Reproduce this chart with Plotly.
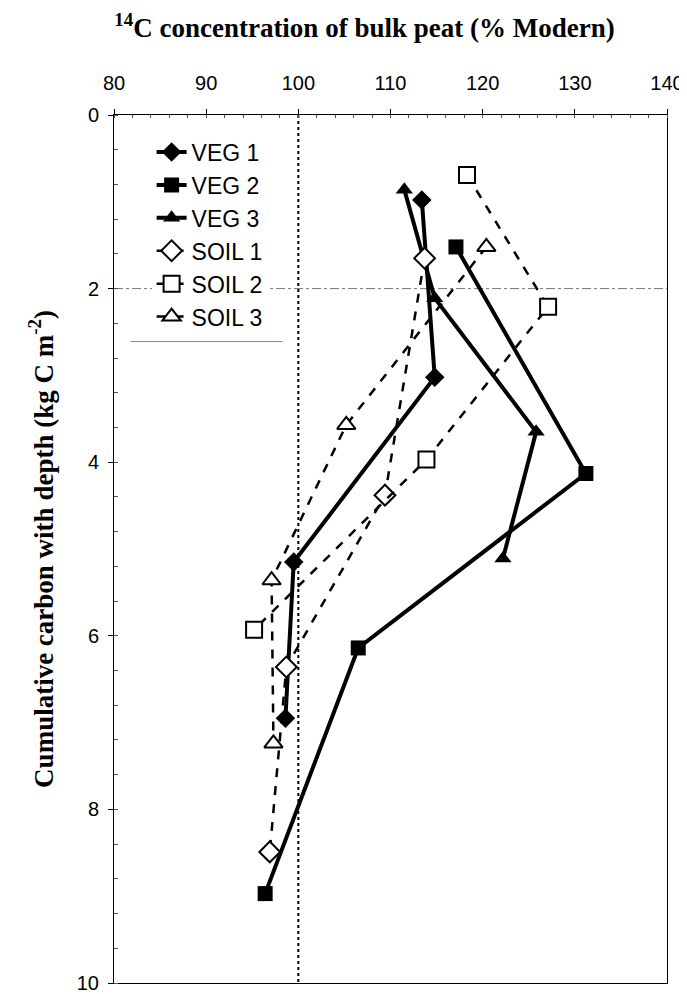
import plotly.graph_objects as go

# ---- data ----
veg1_x = [113.4, 114.8, 99.5, 98.6]
veg1_y = [0.98, 3.02, 5.15, 6.95]
veg2_x = [117.1, 131.2, 106.5, 96.4]
veg2_y = [1.52, 4.13, 6.14, 8.97]
veg3_x = [111.5, 114.8, 125.8, 122.2]
veg3_y = [0.86, 2.11, 3.65, 5.11]
soil1_x = [113.7, 109.4, 98.7, 96.9]
soil1_y = [1.65, 4.38, 6.36, 8.49]
soil2_x = [118.3, 127.1, 113.9, 95.2]
soil2_y = [0.69, 2.21, 3.97, 5.93]
soil3_x = [120.4, 105.2, 97.1, 97.3]
soil3_y = [1.52, 3.57, 5.36, 7.24]

x_ticks = [80, 90, 100, 110, 120, 130, 140]
y_ticks = [0, 2, 4, 6, 8, 10]
modern_ref = 100
ref_depth = 2

series = [
    ("VEG 1", veg1_x, veg1_y, "diamond", True),
    ("VEG 2", veg2_x, veg2_y, "square", True),
    ("VEG 3", veg3_x, veg3_y, "triangle-up", True),
    ("SOIL 1", soil1_x, soil1_y, "diamond", False),
    ("SOIL 2", soil2_x, soil2_y, "square", False),
    ("SOIL 3", soil3_x, soil3_y, "triangle-up", False),
]

SANS = "Liberation Sans"

fig = go.Figure()

# reference lines
fig.add_trace(go.Scatter(x=[modern_ref, modern_ref], y=[0, 10], mode="lines",
                         line=dict(color="black", width=2, dash="dot"),
                         showlegend=False, hoverinfo="skip"))
fig.add_trace(go.Scatter(x=[80, 140], y=[ref_depth, ref_depth], mode="lines",
                         line=dict(color="#777777", width=1, dash="dashdot"),
                         showlegend=False, hoverinfo="skip"))

for name, xs, ys, sym, solid in series:
    if solid:
        fig.add_trace(go.Scatter(
            x=xs, y=ys, name=name, mode="lines+markers",
            line=dict(color="black", width=4),
            marker=dict(symbol=sym, size=15, color="black"),
        ))
    else:
        fig.add_trace(go.Scatter(
            x=xs, y=ys, name=name, mode="lines+markers",
            line=dict(color="black", width=2.5, dash="dash"),
            marker=dict(symbol=sym, size=16, color="white",
                        line=dict(color="black", width=2)),
        ))

# the page body adds an 8px offset, so the figure is 8px smaller than the window
fig.update_layout(
    template="none",
    width=679, height=986,
    margin=dict(l=106, r=20, t=107, b=11, autoexpand=False),
    paper_bgcolor="white", plot_bgcolor="white",
    title=dict(text="<b><sup>14</sup>C concentration of bulk peat (% Modern)</b>",
               x=0.525, xanchor="center", y=0.980, yanchor="middle",
               font=dict(family="Liberation Serif", size=27, color="black")),
    showlegend=True,
    legend=dict(x=0.068, y=0.982, xanchor="left", yanchor="top",
                bgcolor="white", borderwidth=0,
                font=dict(family=SANS, size=23, color="black"),
                tracegroupgap=0),
    shapes=[dict(type="line", xref="paper", yref="paper",
                 x0=0.03, x1=0.305, y0=0.739, y1=0.739,
                 line=dict(color="#888888", width=1))],
    xaxis=dict(side="top", range=[80, 140], tickvals=x_ticks,
               ticktext=[str(v) for v in x_ticks],
               showgrid=False, zeroline=False, automargin=False,
               showline=True, linecolor="black", linewidth=1, mirror=True,
               ticks="outside", ticklen=5, tickcolor="black",
               ticklabelstandoff=11, ticklabeloverflow="allow",
               minor=dict(dtick=2, ticks="inside", ticklen=3, tickcolor="#555555"),
               tickfont=dict(family=SANS, size=20, color="black")),
    yaxis=dict(range=[10, 0], tickvals=y_ticks,
               showgrid=False, zeroline=False, automargin=False,
               showline=True, linecolor="black", linewidth=1, mirror=True,
               ticks="outside", ticklen=5, tickcolor="black",
               ticklabelstandoff=5, ticklabeloverflow="allow",
               minor=dict(dtick=0.4, ticks="inside", ticklen=4, tickcolor="#555555"),
               tickfont=dict(family=SANS, size=20, color="black"),
               title=dict(text="<b>Cumulative carbon with depth (kg C m<sup>-2</sup>)</b>",
                          font=dict(family="Liberation Serif", size=27, color="black"),
                          standoff=15)),
)

fig.write_html("out.html")
